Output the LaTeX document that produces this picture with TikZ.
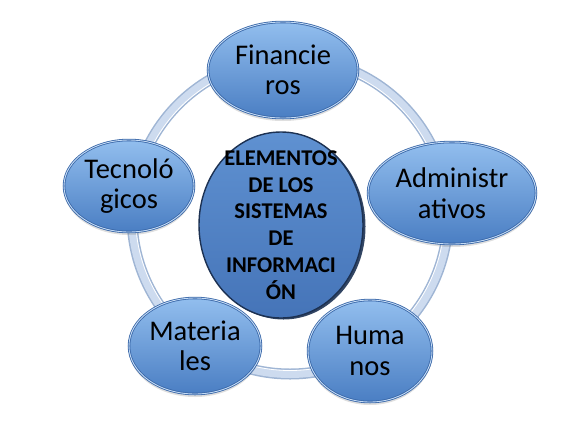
\documentclass[tikz,border=0pt]{standalone}
\usepackage{fontspec}
\setmainfont{Carlito}
\usepackage{tikz}
\usetikzlibrary{shapes.geometric,shadows}
\definecolor{ringedge}{HTML}{9FB5D4}
\definecolor{ringfill}{HTML}{CDDBEF}
\definecolor{bubbletop}{HTML}{92BEEE}
\definecolor{bubblebot}{HTML}{4A7EC3}
\definecolor{bubbleedge}{HTML}{3765A6}
\definecolor{hubtop}{HTML}{5F91D1}
\definecolor{hubbot}{HTML}{4574B8}
\definecolor{hubedge}{HTML}{1C3152}

\begin{document}
\begin{tikzpicture}[
    x=1pt, y=-1pt,
    bubble/.style={ellipse, draw=bubbleedge, line width=0.8pt,
        double=bubbletop!55!white, double distance=0.9pt,
        top color=bubbletop, bottom color=bubblebot,
        inner sep=0pt, align=center, text=black,
        font=\fontsize{28.5}{30.5}\selectfont,
        drop shadow={shadow xshift=0pt, shadow yshift=-3pt, opacity=0.25}},
    hubnode/.style={ellipse, draw=hubedge, line width=1.4pt,
        top color=hubtop, bottom color=hubbot,
        inner sep=-30pt, align=center, text=black,
        font=\bfseries\fontsize{22.5}{26.8}\selectfont,
        drop shadow={shadow xshift=2.5pt, shadow yshift=-1.5pt,
            fill=hubedge, opacity=0.9}},
    ringline/.style={line width=11pt, draw=ringedge}
]
\useasboundingbox (0,0) rectangle (567,421);

% Ring behind the elements
\coordinate (ring) at (290,216);
\draw[ringline] (ring) circle[radius=158];
\draw[line width=8pt, draw=ringfill] (ring) circle[radius=158];
\draw[line width=0.8pt, draw=white] (ring) circle[radius=154.5];

% Elements on the ring
\node[bubble, minimum width=150, minimum height=96] (fin) at (283,70) {Financie\\ros};
\node[bubble, minimum width=168, minimum height=102] (adm) at (452,193) {Administr\\ativos};
\node[bubble, minimum width=124, minimum height=102] (hum) at (370,351) {Huma\\nos};
\node[bubble, minimum width=132, minimum height=96] (mat) at (195,346) {Materia\\les};
\node[bubble, minimum width=130, minimum height=92] (tec) at (129,186) {Tecnoló\\gicos};

% Centre
\node[hubnode, minimum width=164, minimum height=186] (hub) at (281,225)
    {ELEMENTOS\\DE LOS\\SISTEMAS\\DE\\INFORMACI\\ÓN};

\end{tikzpicture}
\end{document}
